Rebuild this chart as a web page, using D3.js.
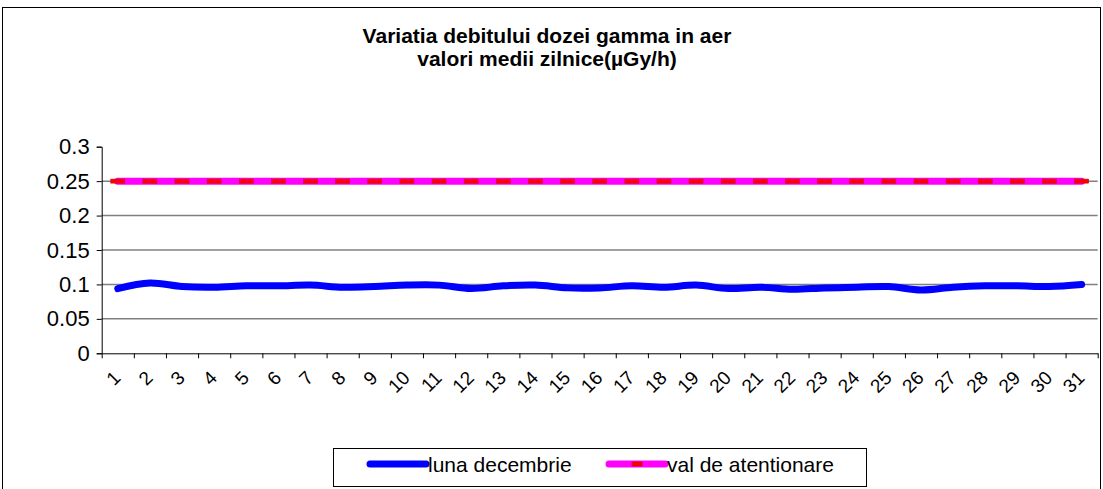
<!DOCTYPE html>
<html>
<head>
<meta charset="utf-8">
<script src="https://cdn.jsdelivr.net/npm/d3@7"></script>
<style>
  body { margin: 0; background: #fff; }
  text { font-family: Arial, "Liberation Sans", sans-serif; }
</style>
</head>
<body>
<svg id="chart"></svg>
<script>
const days = d3.range(1, 32);
const dailyDose = [0.094, 0.102, 0.097, 0.096, 0.098, 0.098, 0.099, 0.096, 0.097, 0.099,
                   0.099, 0.094, 0.098, 0.099, 0.095, 0.095, 0.098, 0.096, 0.099, 0.094,
                   0.096, 0.093, 0.095, 0.096, 0.097, 0.092, 0.096, 0.098, 0.098, 0.097, 0.1];
const alertLevel = days.map(() => 0.25);
const yTicks = [0, 0.05, 0.1, 0.15, 0.2, 0.25, 0.3];
const yTickLabels = ["0", "0.05", "0.1", "0.15", "0.2", "0.25", "0.3"];
const titleLines = ["Variatia debitului dozei gamma in aer", "valori medii zilnice(\u00b5Gy/h)"];
const seriesNames = ["luna decembrie", "val de atentionare"];

const width = 1103;
const height = 489;

let svg = d3.select("#chart")
            .attr("width", width)
            .attr("height", height);

// chart frame
svg.append("rect")
   .attr("x", 2.5).attr("y", 7.5)
   .attr("width", 1098).attr("height", 490)
   .attr("fill", "#fff")
   .attr("stroke", "#000");

// title
svg.append("g").selectAll("text")
   .data(titleLines)
   .enter().append("text")
   .attr("x", 547)
   .attr("y", (d, i) => 43 + i * 23)
   .attr("text-anchor", "middle")
   .attr("font-size", 21)
   .attr("font-weight", "bold")
   .text(d => d);

let x = d3.scaleLinear().domain([0.5, 31.5]).range([101.7, 1097.7]);
let y = d3.scaleLinear().domain([0, 0.3]).range([353.3, 146.7]);

// gridlines
svg.append("g").selectAll("line")
   .data(yTicks.filter(v => v > 0 && v < 0.3))
   .enter().append("line")
   .attr("x1", x.range()[0]).attr("x2", x.range()[1])
   .attr("y1", d => y(d)).attr("y2", d => y(d))
   .attr("stroke", "#808080")
   .attr("stroke-width", 1.5);

// y axis
let yAxis = svg.append("g")
   .attr("transform", `translate(${x.range()[0]},0)`)
   .call(d3.axisLeft(y).tickValues(yTicks).tickSize(5).tickPadding(7)
         .tickFormat((d, i) => yTickLabels[i]));
yAxis.selectAll("text").attr("font-size", 22).attr("fill", "#000").attr("font-family", null);
yAxis.selectAll("line, path").attr("stroke", "#000");

// x axis, ticks on category boundaries
let xAxis = svg.append("g")
   .attr("transform", `translate(0,${y(0)})`)
   .call(d3.axisBottom(x).tickValues(d3.range(0.5, 32, 1)).tickSize(5).tickSizeOuter(0).tickFormat(""));
xAxis.selectAll("line, path").attr("stroke", "#000");

svg.append("g").selectAll("text")
   .data(days)
   .enter().append("text")
   .attr("transform", d => `translate(${x(d) + 4},379) rotate(-45)`)
   .attr("text-anchor", "end")
   .attr("font-size", 19)
   .text(d => d);

// series
let line = d3.line()
   .x((d, i) => x(days[i]))
   .y(d => y(d))
   .curve(d3.curveCatmullRom.alpha(0.5));

svg.append("path")
   .datum(alertLevel)
   .attr("d", line)
   .attr("fill", "none")
   .attr("stroke", "#ff00ff")
   .attr("stroke-width", 7)
   .attr("stroke-linecap", "round");

svg.append("g").selectAll("rect")
   .data(alertLevel)
   .enter().append("rect")
   .attr("x", (d, i) => x(days[i]) - 7)
   .attr("y", d => y(d) - 2)
   .attr("width", 14).attr("height", 4)
   .attr("fill", "#ff0000")
   .attr("stroke", "#d00000")
   .attr("stroke-width", 0.6);

svg.append("path")
   .datum(dailyDose)
   .attr("d", line)
   .attr("fill", "none")
   .attr("stroke", "#0000ff")
   .attr("stroke-width", 7)
   .attr("stroke-linecap", "round")
   .attr("stroke-linejoin", "round");

// legend
let legend = svg.append("g");
legend.append("rect")
   .attr("x", 333.5).attr("y", 448.5)
   .attr("width", 533).attr("height", 38)
   .attr("fill", "#fff").attr("stroke", "#000");

let items = legend.selectAll("g.item")
   .data(seriesNames)
   .enter().append("g")
   .attr("class", "item")
   .attr("transform", (d, i) => `translate(${i === 0 ? 370 : 609},464)`);

items.append("line")
   .attr("x1", 0).attr("x2", 56)
   .attr("stroke", (d, i) => i === 0 ? "#0000ff" : "#ff00ff")
   .attr("stroke-width", 7)
   .attr("stroke-linecap", "round");

items.filter((d, i) => i === 1).append("rect")
   .attr("x", 23).attr("y", -2).attr("width", 10).attr("height", 4)
   .attr("fill", "#ff0000").attr("stroke", "#d00000").attr("stroke-width", 0.6);

items.append("text")
   .attr("x", 58).attr("y", 8)
   .attr("font-size", 21)
   .text(d => d);
</script>
</body>
</html>
